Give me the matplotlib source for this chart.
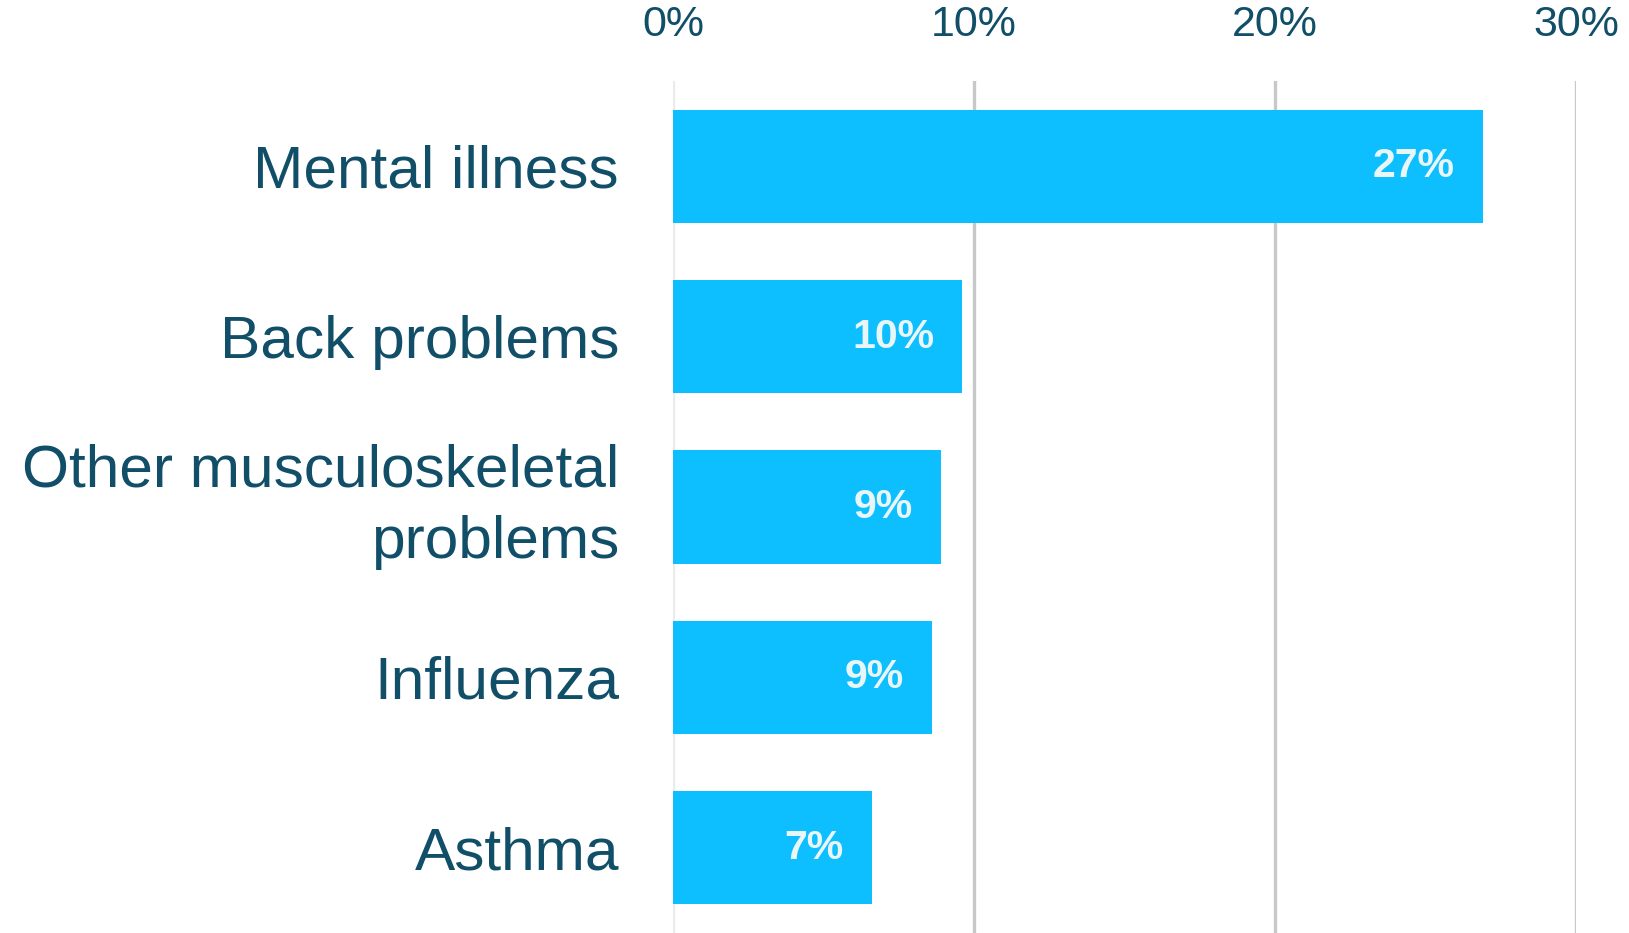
import matplotlib.pyplot as plt
from matplotlib.ticker import FuncFormatter

plt.rcParams["font.family"] = ["Liberation Sans", "DejaVu Sans"]

categories = [
    "Mental illness",
    "Back problems",
    "Other musculoskeletal\nproblems",
    "Influenza",
    "Asthma",
]
shares = [26.9, 9.6, 8.9, 8.6, 6.6]  # percent of cases
x_ticks = [0, 10, 20, 30]

BAR_COLOR = "#0dbfff"
TEXT_COLOR = "#114e68"
LABEL_COLOR = "#e8f6f7"

fig = plt.figure(figsize=(16.29, 9.33), dpi=100)
ax = fig.add_axes([0.4132, 0.0, 0.5543, 0.913])

ypos = list(range(len(categories)))
bars = ax.barh(ypos, shares, height=0.665, color=BAR_COLOR, zorder=3)

# value labels inside the bar ends
for bar, val in zip(bars, shares):
    ax.annotate(
        f"{val:.0f}%",
        xy=(bar.get_width(), bar.get_y() + bar.get_height() / 2),
        xytext=(-20, 0),
        textcoords="offset points",
        ha="right",
        va="center",
        color=LABEL_COLOR,
        fontsize=29.5,
        fontweight="bold",
        zorder=4,
    )

ax.set_xlim(0, 30)
ax.set_ylim(len(categories) - 0.5, -0.5)
ax.set_xticks(x_ticks)
ax.xaxis.set_major_formatter(FuncFormatter(lambda v, _: f"{v:.0f}%"))
ax.xaxis.tick_top()
ax.tick_params(axis="x", length=0, pad=26, labelsize=31, labelcolor=TEXT_COLOR)

ax.set_yticks(ypos)
ax.set_yticklabels(categories, fontsize=43.5, color=TEXT_COLOR, linespacing=1.38)
for lbl in ax.get_yticklabels():
    lbl.set_multialignment("right")
    if "\n" in lbl.get_text():
        lbl.set_verticalalignment("center")
ax.tick_params(axis="y", length=0, pad=39)

ax.grid(axis="x", color="#c8c8c8", linewidth=2.4, zorder=0)
ax.get_xgridlines()[0].set_color("#ebebeb")
ax.set_axisbelow(True)
for spine in ax.spines.values():
    spine.set_visible(False)

plt.savefig("out.png", dpi=100)
plt.close()
